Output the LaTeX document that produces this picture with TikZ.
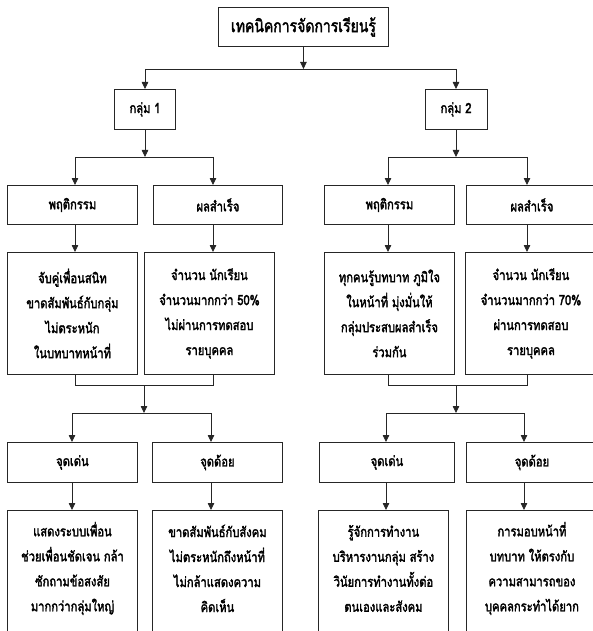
\documentclass[tikz,border=0pt]{standalone}
\usepackage{fontspec}
\newfontfamily\thai[Script=Thai, FakeStretch=0.8, FakeBold=2.2]{Loma}
\usetikzlibrary{arrows.meta}
\tikzset{
  box/.style={draw=black!85, line width=0.9pt, inner sep=0pt, align=center,
    font=\thai\fontsize{14}{25}\selectfont},
  nw/.style={anchor=north west},
  openbox/.style={box, draw=none},
  ln/.style={line width=0.8pt, draw=black!85},
  arr/.style={ln, -{Triangle[width=6.5pt,length=7pt]}}
}
\begin{document}
\begin{tikzpicture}[x=1pt,y=-1pt]
\useasboundingbox (0,0) rectangle (593,631);
\clip (0,0) rectangle (593,631);
% top
\node[box, nw, minimum width=170pt, minimum height=39pt, font=\thai\fontsize{17.5}{25}\selectfont] (top) at (218,7) {เทคนิคการจัดการเรียนรู้};
\node[box, anchor=north, minimum width=61pt, minimum height=40pt] (g1) at (145,89) {กลุ่ม 1};
\node[box, anchor=north, minimum width=62pt, minimum height=40pt] (g2) at (456,89) {กลุ่ม 2};
% row 1
\node[box, nw, minimum width=130pt, minimum height=39pt] (pL) at (7,185) {พฤติกรรม};
\node[box, nw, minimum width=129pt, minimum height=39pt] (sL) at (153,185) {ผลสำเร็จ};
\node[box, nw, minimum width=130pt, minimum height=39pt] (pR) at (324,185) {พฤติกรรม};
\node[box, nw, minimum width=131pt, minimum height=39pt] (sR) at (466,185) {ผลสำเร็จ};
% row 2
\node[box, nw, minimum width=130pt, minimum height=122pt] (t1) at (7,252) {จับคู่เพื่อนสนิท\\ขาดสัมพันธ์กับกลุ่ม\\ไม่ตระหนัก\\ในบทบาทหน้าที่};
\node[box, nw, minimum width=130pt, minimum height=122pt] (t2) at (144,252) {จำนวน นักเรียน\\จำนวนมากกว่า 50\%\\ไม่ผ่านการทดสอบ\\รายบุคคล};
\node[box, nw, minimum width=130pt, minimum height=122pt] (t3) at (324,252) {ทุกคนรู้บทบาท ภูมิใจ\\ในหน้าที่ มุ่งมั่นให้\\กลุ่มประสบผลสำเร็จ\\ร่วมกัน};
\node[box, nw, minimum width=131pt, minimum height=122pt] (t4) at (465,252) {จำนวน นักเรียน\\จำนวนมากกว่า 70\%\\ผ่านการทดสอบ\\รายบุคคล};
% row 3
\node[box, nw, minimum width=130pt, minimum height=40pt] (dL) at (7,442) {จุดเด่น};
\node[box, nw, minimum width=130pt, minimum height=40pt] (wL) at (152,442) {จุดด้อย};
\node[box, nw, minimum width=135pt, minimum height=40pt] (dR) at (319,442) {จุดเด่น};
\node[box, nw, minimum width=131pt, minimum height=40pt] (wR) at (466,442) {จุดด้อย};
% row 4 (open at the bottom)
\node[openbox, nw, minimum width=130pt, minimum height=116pt] (b1) at (7,510) {แสดงระบบเพื่อน\\ช่วยเพื่อนชัดเจน กล้า\\ซักถามข้อสงสัย\\มากกว่ากลุ่มใหญ่};
\node[openbox, nw, minimum width=130pt, minimum height=116pt] (b2) at (152,510) {ขาดสัมพันธ์กับสังคม\\ไม่ตระหนักถึงหน้าที่\\ไม่กล้าแสดงความ\\คิดเห็น};
\node[openbox, nw, minimum width=130pt, minimum height=116pt] (b3) at (318,510) {รู้จักการทำงาน\\บริหารงานกลุ่ม สร้าง\\วินัยการทำงานทั้งต่อ\\ตนเองและสังคม};
\node[openbox, nw, minimum width=131pt, minimum height=116pt] (b4) at (466,510) {การมอบหน้าที่\\บทบาท ให้ตรงกับ\\ความสามารถของ\\บุคคลกระทำได้ยาก};
\foreach \b in {b1,b2,b3,b4}{
  \draw[box] ([yshift=-12pt]\b.south west) -- (\b.north west) -- (\b.north east) -- ([yshift=-12pt]\b.south east);
}
% junction coordinates
\coordinate (hL) at (145,69);  \coordinate (hR) at (456,69);
\coordinate (a1) at (75,157);  \coordinate (a2) at (213,157);
\coordinate (a3) at (388,157); \coordinate (a4) at (527,157);
\coordinate (m1) at (75,385);  \coordinate (m2) at (213,385); \coordinate (mc1) at (144,385);
\coordinate (m3) at (388,385); \coordinate (m4) at (527,385); \coordinate (mc2) at (456,385);
\coordinate (k1) at (72,413);  \coordinate (k2) at (211,413);
\coordinate (k3) at (386,413); \coordinate (k4) at (524,413);
% top level
\draw[arr] (top.south) -- (top.south |- hL);
\draw[ln] (hL) -- (hR);
\draw[arr] (hL) -- (g1.north);
\draw[arr] (hR) -- (g2.north);
% group 1
\draw[arr] (g1.south) -- (g1.south |- a1);
\draw[ln] (a1) -- (a2);
\draw[arr] (a1) -- (a1 |- pL.north);
\draw[arr] (a2) -- (a2 |- sL.north);
\draw[arr] (a1 |- pL.south) -- (a1 |- t1.north);
\draw[arr] (a2 |- sL.south) -- (a2 |- t2.north);
\draw[ln] (m1 |- t1.south) -- (m1) -- (m2) -- (m2 |- t2.south);
\draw[arr] (mc1) -- (mc1 |- k1);
\draw[ln] (k1) -- (k2);
\draw[arr] (k1) -- (k1 |- dL.north);
\draw[arr] (k2) -- (k2 |- wL.north);
\draw[arr] (k1 |- dL.south) -- (k1 |- b1.north);
\draw[arr] (k2 |- wL.south) -- (k2 |- b2.north);
% group 2
\draw[arr] (g2.south) -- (g2.south |- a3);
\draw[ln] (a3) -- (a4);
\draw[arr] (a3) -- (a3 |- pR.north);
\draw[arr] (a4) -- (a4 |- sR.north);
\draw[arr] (a3 |- pR.south) -- (a3 |- t3.north);
\draw[arr] (a4 |- sR.south) -- (a4 |- t4.north);
\draw[ln] (m3 |- t3.south) -- (m3) -- (m4) -- (m4 |- t4.south);
\draw[arr] (mc2) -- (mc2 |- k3);
\draw[ln] (k3) -- (k4);
\draw[arr] (k3) -- (k3 |- dR.north);
\draw[arr] (k4) -- (k4 |- wR.north);
\draw[arr] (k3 |- dR.south) -- (k3 |- b3.north);
\draw[arr] (k4 |- wR.south) -- (k4 |- b4.north);
\end{tikzpicture}
\end{document}
